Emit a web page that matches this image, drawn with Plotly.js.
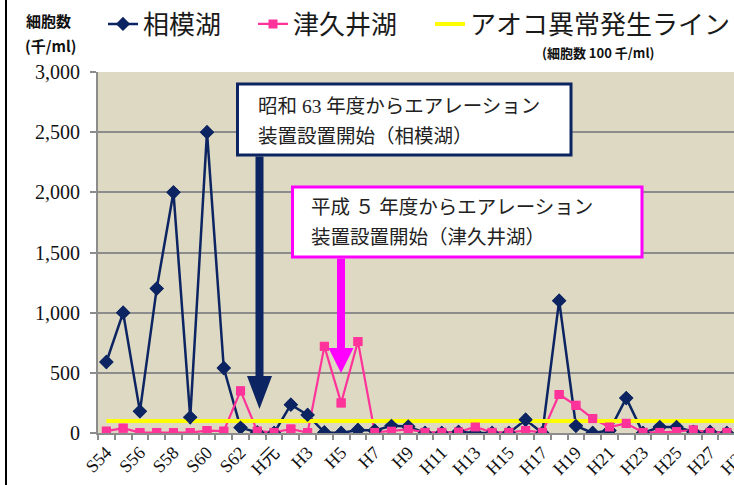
<!DOCTYPE html>
<html><head><meta charset="utf-8">
<script src="https://cdn.plot.ly/plotly-3.0.1.min.js"></script>
<style>html,body{margin:0;padding:0;overflow:hidden;background:#fff}#chart{width:800px;height:485px}</style>
</head><body><div id="chart"></div>
<script>
// ---- data ----
const categories = ['S54','S55','S56','S57','S58','S59','S60','S61','S62','S63',
  'H元','H2','H3','H4','H5','H6','H7','H8','H9','H10','H11','H12','H13','H14','H15',
  'H16','H17','H18','H19','H20','H21','H22','H23','H24','H25','H26','H27','H28','H29'];
const xTickLabels = ['S54','','S56','','S58','','S60','','S62','',
  'H元','','H3','','H5','','H7','','H9','','H11','','H13','','H15',
  '','H17','','H19','','H21','','H23','','H25','','H27','','H29'];
const sagamiko = [590,1000,180,1200,2000,130,2500,540,45,5,
  0,235,150,5,0,25,20,60,55,0,0,10,0,0,0,
  110,0,1100,60,0,20,290,0,50,50,10,10,0];
const tsukuiko = [15,40,3,3,3,3,20,15,350,15,
  5,33,3,720,250,760,5,15,30,5,5,8,50,5,5,
  20,5,320,230,120,50,80,5,5,12,25,5,5];
const threshold = [100,100,100,100,100,100,100,100,100,100,
  100,100,100,100,100,100,100,100,100,100,100,100,100,100,100,
  100,100,100,100,100,100,100,100,100,100,100,100,100,100];
const seriesNames = ['相模湖','津久井湖','アオコ異常発生ライン'];
const yTickValues = [0,500,1000,1500,2000,2500,3000];
const yTickLabels = ['0','500','1,000','1,500','2,000','2,500','3,000'];

// ---- layout helpers ----
const W = 800, H = 485, M = {l:98, r:48, t:72, b:52};
const PW = W - M.l - M.r, PH = H - M.t - M.b;
const px = X => (X - M.l) / PW;
const py = Y => (M.t + PH - Y) / PH;
const path = pts => pts.map((p,i)=>(i?'L':'M')+px(p[0]).toFixed(5)+','+py(p[1]).toFixed(5)).join(' ')+' Z';

const NAVY = '#0c2461', PINK = '#ff3399', YEL = '#ffff00', MAG = '#ff00ff';
const serif = '"Liberation Serif", "Times New Roman", "DejaVu Serif", "Noto Sans CJK JP", serif';
const cjk = '"Noto Sans CJK JP", sans-serif';

const xs = a => categories.slice(0, a.length);

const traces = [
  {type:'scatter', mode:'lines+markers', name:seriesNames[0], x:xs(sagamiko), y:sagamiko,
   line:{color:NAVY, width:2.5}, marker:{symbol:'diamond', size:11, color:NAVY}, legend:'legend'},
  {type:'scatter', mode:'lines+markers', name:seriesNames[1], x:xs(tsukuiko), y:tsukuiko,
   line:{color:PINK, width:2.2}, marker:{symbol:'square', size:9, color:PINK}, legend:'legend2'},
  {type:'scatter', mode:'lines', name:seriesNames[2], x:xs(threshold), y:threshold,
   line:{color:YEL, width:4}, legend:'legend3'},
  {type:'scatter', mode:'markers', name:seriesNames[0], x:xs(sagamiko), y:sagamiko, showlegend:false,
   marker:{symbol:'diamond', size:11, color:NAVY}, hoverinfo:'skip'},
  {type:'scatter', mode:'markers', name:seriesNames[1], x:xs(tsukuiko), y:tsukuiko, showlegend:false,
   marker:{symbol:'square', size:9, color:PINK}, hoverinfo:'skip'}
];

const legendBase = {orientation:'h', xref:'container', yref:'container', xanchor:'left', yanchor:'middle',
  y: 1 - 24/H, bgcolor:'rgba(0,0,0,0)', borderwidth:0, font:{family:cjk, size:26, color:'#1a1a1a'}};

const boxFont = {family:serif, size:19.5, color:'#222'};

const layout = {
  width:W, height:H, autosize:false,
  margin:{l:M.l, r:M.r, t:M.t, b:M.b, pad:0},
  paper_bgcolor:'#ffffff', plot_bgcolor:'#ddd9c3',
  showlegend:true,
  legend: Object.assign({}, legendBase, {x: 103/W}),
  legend2: Object.assign({}, legendBase, {x: 253/W}),
  legend3: Object.assign({}, legendBase, {x: 430/W}),
  xaxis:{type:'category', categoryorder:'array', categoryarray:categories,
    range:[-0.5, categories.length - 0.5], tickmode:'array', tickvals:categories, ticktext:xTickLabels,
    tickson:'boundaries', ticks:'outside', ticklen:5, tickwidth:2, tickcolor:'#8c8c8c',
    showline:true, linecolor:'#8c8c8c', linewidth:2, showgrid:false, zeroline:false,
    tickangle:-45, tickfont:{family:serif, size:18, color:'#111'}, fixedrange:true},
  yaxis:{range:[0,3000], tickmode:'array', tickvals:yTickValues, ticktext:yTickLabels,
    ticks:'outside', ticklen:6, tickwidth:2, tickcolor:'#8c8c8c', ticklabelstandoff:6,
    showline:true, linecolor:'#8c8c8c', linewidth:2, showgrid:true, gridcolor:'#8c8c8c', gridwidth:2,
    zeroline:false, tickfont:{family:serif, size:20, color:'#111'}, fixedrange:true},
  shapes:[
    {type:'line', xref:'paper', yref:'paper', x0:px(6), x1:px(6), y0:py(-5), y1:py(490), line:{color:'#000', width:2}},
    {type:'rect', xref:'paper', yref:'paper', x0:px(237.5), x1:px(571), y0:py(84), y1:py(155),
     fillcolor:'#fff', line:{color:NAVY, width:3}},
    {type:'path', xref:'paper', yref:'paper', path:path([[255.5,156.5],[263.5,156.5],[263.5,376],[272,376],[259.5,409],[247,376],[255.5,376]]),
     fillcolor:NAVY, line:{width:0}},
    {type:'rect', xref:'paper', yref:'paper', x0:px(292.5), x1:px(642), y0:py(187), y1:py(257),
     fillcolor:'#fff', line:{color:MAG, width:3}},
    {type:'path', xref:'paper', yref:'paper', path:path([[337,258.5],[345,258.5],[345,348],[353.5,348],[341,373],[328.5,348],[337,348]]),
     fillcolor:MAG, line:{width:0}}
  ],
  annotations:[
    {xref:'paper', yref:'paper', x:px(256), y:py(106.5), xanchor:'left', yanchor:'middle', showarrow:false,
     text:'昭和 63 年度からエアレーション', font:boxFont},
    {xref:'paper', yref:'paper', x:px(256), y:py(136.5), xanchor:'left', yanchor:'middle', showarrow:false,
     text:'装置設置開始（相模湖）', font:boxFont},
    {xref:'paper', yref:'paper', x:px(309), y:py(207), xanchor:'left', yanchor:'middle', showarrow:false,
     text:'平成 ５ 年度からエアレーション', font:boxFont},
    {xref:'paper', yref:'paper', x:px(309), y:py(237), xanchor:'left', yanchor:'middle', showarrow:false,
     text:'装置設置開始（津久井湖）', font:boxFont},
    {xref:'paper', yref:'paper', x:px(48.5), y:py(20), xanchor:'center', yanchor:'middle', showarrow:false,
     text:'細胞数', font:{family:cjk, size:15, color:'#111', weight:'bold'}},
    {xref:'paper', yref:'paper', x:px(50.5), y:py(45), xanchor:'center', yanchor:'middle', showarrow:false,
     text:'(千/ml)', font:{family:cjk, size:15, color:'#111', weight:'bold'}},
    {xref:'paper', yref:'paper', x:px(598), y:py(52), xanchor:'center', yanchor:'middle', showarrow:false,
     text:'(細胞数 100 千/ml)', font:{family:cjk, size:13, color:'#111', weight:'bold'}}
  ]
};

Plotly.newPlot('chart', traces, layout, {displayModeBar:false, staticPlot:true});
</script>
</body></html>
